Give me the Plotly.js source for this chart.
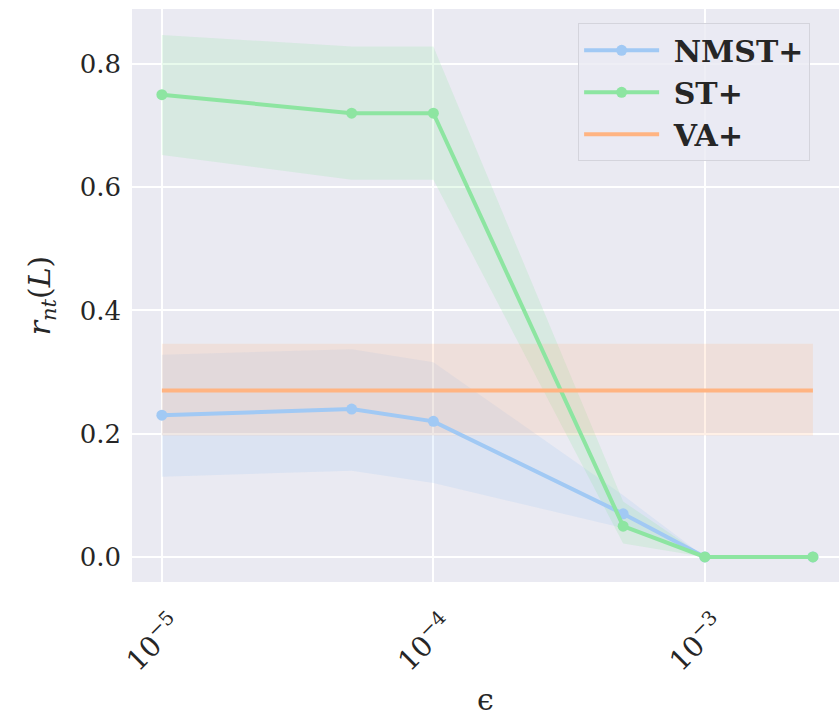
<!DOCTYPE html>
<html>
<head>
<meta charset="utf-8">
<script src="https://cdn.plot.ly/plotly-3.0.1.min.js"></script>
<style>html,body{margin:0;padding:0;background:#fff;}#chart{width:839px;height:718px;}</style>
</head>
<body>
<div id="chart"></div>
<script>
// epsilon values
const eps = [1e-5, 5e-5, 1e-4, 5e-4, 1e-3, 2.5e-3];
// NMST+
const nmstMean = [0.23, 0.24, 0.22, 0.07, 0.0, 0.0];
const nmstLow  = [0.13, 0.14, 0.12, 0.047, 0.0, 0.0];
const nmstHigh = [0.328, 0.337, 0.316, 0.10, 0.0, 0.0];
// ST+
const stMean = [0.75, 0.72, 0.72, 0.05, 0.0, 0.0];
const stLow  = [0.652, 0.612, 0.612, 0.022, 0.0, 0.0];
const stHigh = [0.847, 0.828, 0.828, 0.09, 0.0, 0.0];
// VA+
const vaMean = [0.27, 0.27, 0.27, 0.27, 0.27, 0.27];
const vaLow  = [0.197, 0.197, 0.197, 0.197, 0.197, 0.197];
const vaHigh = [0.346, 0.346, 0.346, 0.346, 0.346, 0.346];

const names = ['NMST+', 'ST+', 'VA+'];
const tickVals = [1e-5, 1e-4, 1e-3];
const tickText = ['10<sup>−5</sup>', '10<sup>−4</sup>', '10<sup>−3</sup>'];
const yTicks = [0.0, 0.2, 0.4, 0.6, 0.8];
const yTickText = ['0.0', '0.2', '0.4', '0.6', '0.8'];

const cBlue = '#a1c9f4', cGreen = '#8de5a1', cOrange = '#ffb482';
const fBlue = 'rgba(161,201,244,0.2)', fGreen = 'rgba(141,229,161,0.2)', fOrange = 'rgba(255,180,130,0.2)';

function band(lo, hi, fill) {
  return [
    {x: eps, y: lo, mode: 'lines', line: {width: 0, color: fill}, showlegend: false, hoverinfo: 'skip'},
    {x: eps, y: hi, mode: 'lines', line: {width: 0, color: fill}, fill: 'tonexty', fillcolor: fill, showlegend: false, hoverinfo: 'skip'}
  ];
}

const traces = [
  ...band(nmstLow, nmstHigh, fBlue),
  ...band(stLow, stHigh, fGreen),
  ...band(vaLow, vaHigh, fOrange),
  {x: eps, y: nmstMean, name: '\u00a0<b>' + names[0] + '</b>', mode: 'lines+markers', line: {color: cBlue, width: 4}, marker: {color: cBlue, size: 11}},
  {x: eps, y: stMean, name: '\u00a0<b>' + names[1] + '</b>', mode: 'lines+markers', line: {color: cGreen, width: 4}, marker: {color: cGreen, size: 11}},
  {x: eps, y: vaMean, name: '\u00a0<b>' + names[2] + '</b>', mode: 'lines', line: {color: cOrange, width: 4}}
];

const serif = 'DejaVu Serif';

const layout = {
  width: 839, height: 718,
  margin: {l: 132, r: 0, t: 9, b: 136},
  paper_bgcolor: '#ffffff',
  plot_bgcolor: '#eaeaf2',
  showlegend: true,
  legend: {
    x: 0.631, y: 0.975, xanchor: 'left', yanchor: 'top',
    traceorder: 'normal',
    bgcolor: 'rgba(234,234,242,0.8)', bordercolor: '#d4d4dc', borderwidth: 1,
    itemwidth: 75,
    font: {family: serif, size: 30, color: '#262626'}
  },
  xaxis: {
    type: 'log',
    range: [Math.log10(1e-5) - 0.11, Math.log10(1e-5) + 2.494],
    tickvals: tickVals, ticktext: tickText,
    tickangle: -45,
    ticks: '', ticklabelstandoff: 20, ticklabelshift: 12,
    tickfont: {family: serif, size: 28, color: '#262626'},
    showgrid: true, gridcolor: '#ffffff', gridwidth: 2,
    zeroline: false, showline: false,
    title: {text: 'ϵ', font: {family: serif, size: 30, color: '#262626'}, standoff: 12}
  },
  yaxis: {
    range: [-0.0406, 0.889],
    tickvals: yTicks, ticktext: yTickText,
    ticks: '', ticklabelstandoff: 10,
    tickfont: {family: serif, size: 26, color: '#262626'},
    showgrid: true, gridcolor: '#ffffff', gridwidth: 2,
    zeroline: false, showline: false,
    title: {text: '<i>r</i><sub><i>nt</i></sub>(<i>L</i>)', font: {family: serif, size: 30, color: '#262626'}, standoff: 20}
  }
};

Plotly.newPlot('chart', traces, layout, {displayModeBar: false, staticPlot: true});
</script>
</body>
</html>
